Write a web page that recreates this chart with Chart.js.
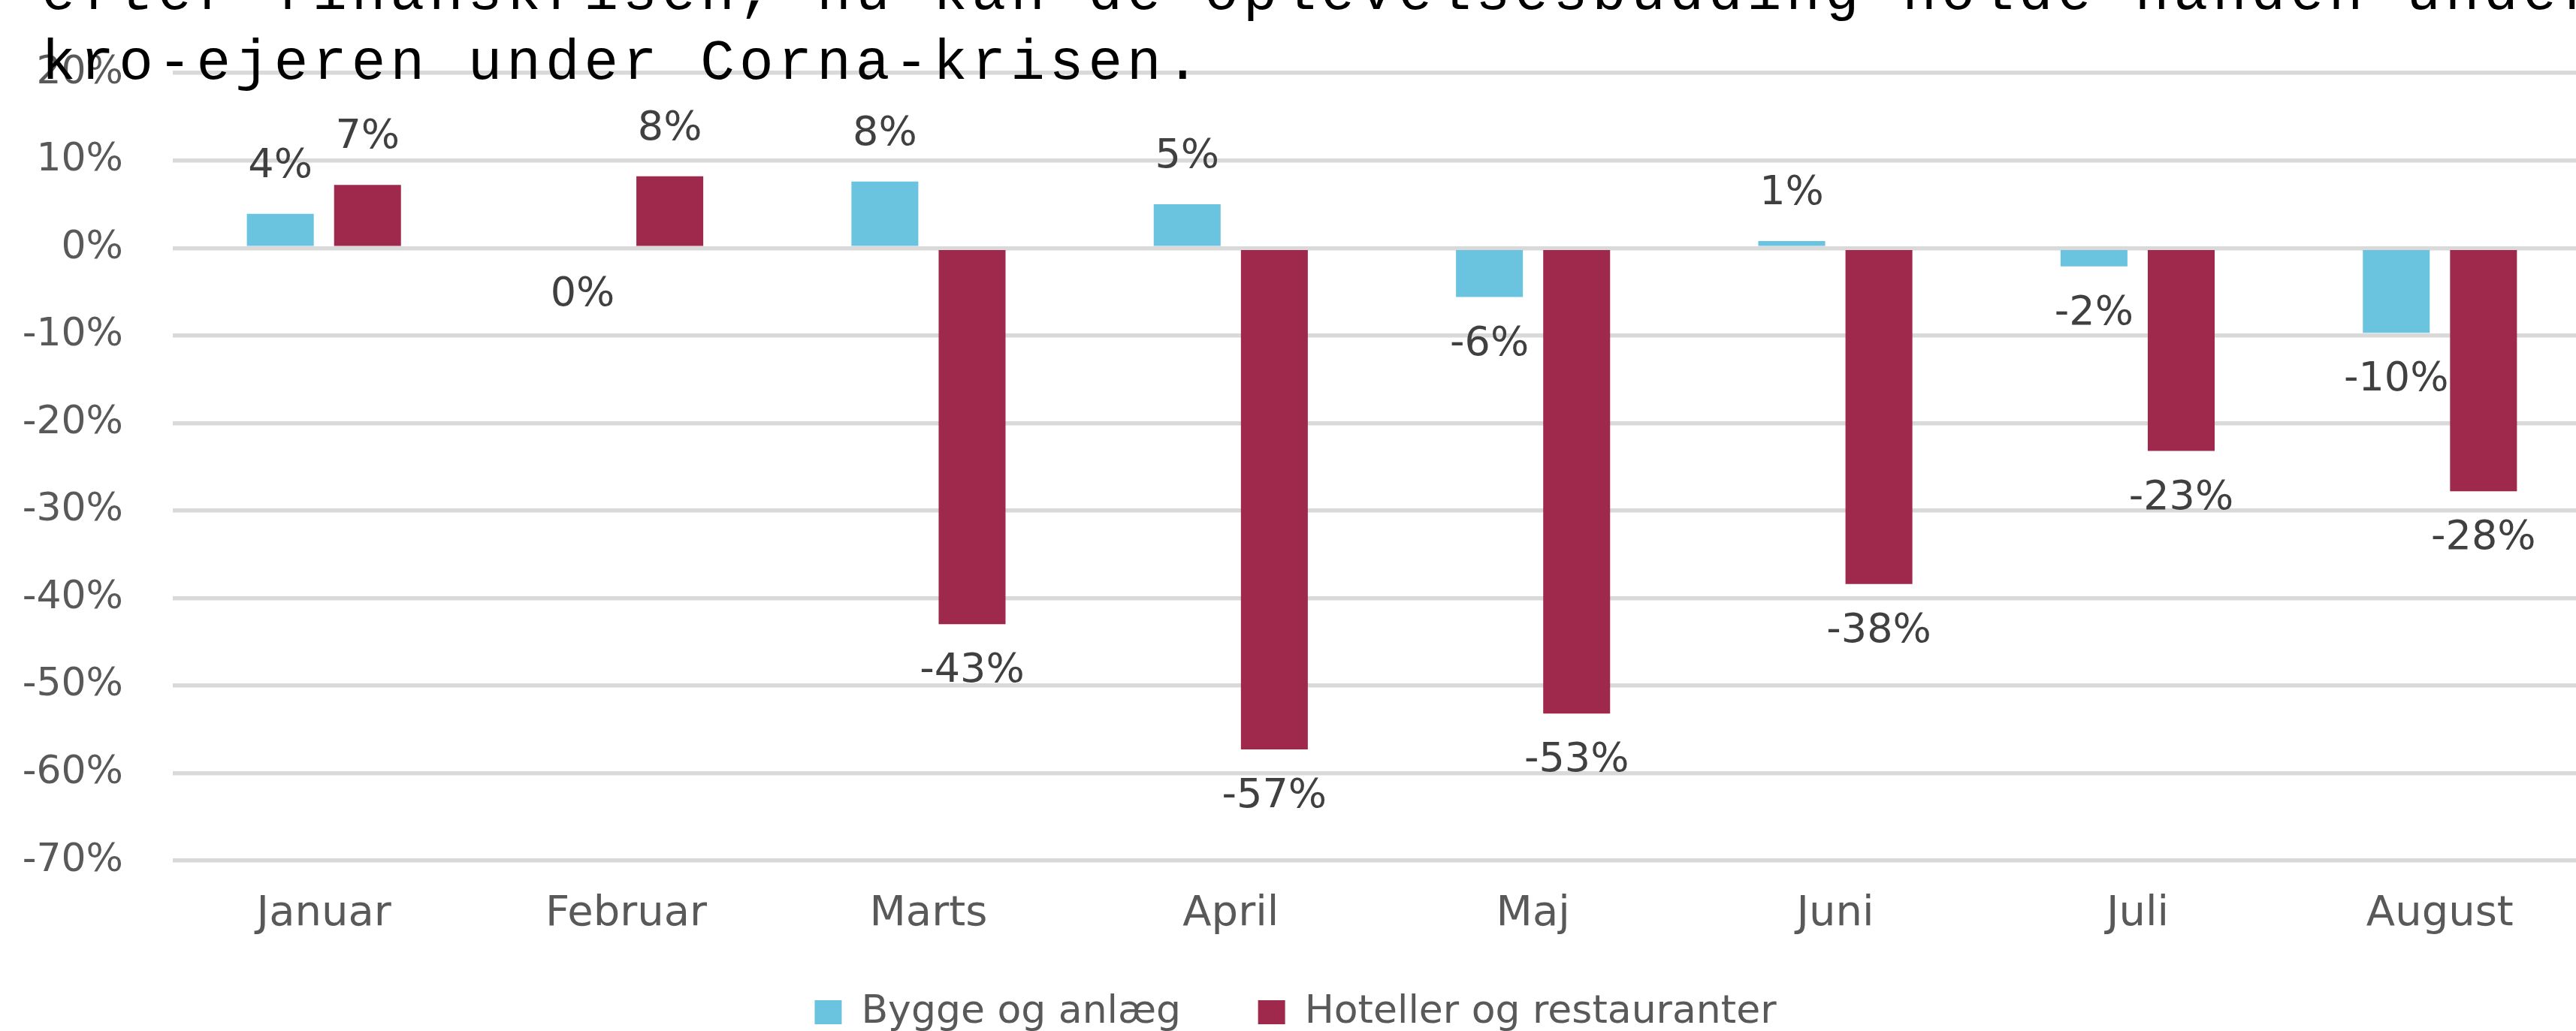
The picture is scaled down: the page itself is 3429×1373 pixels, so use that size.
<!DOCTYPE html>
<html>
<head>
<meta charset="utf-8">
<script src="https://cdn.jsdelivr.net/npm/chart.js@4.4.1/dist/chart.umd.min.js"></script>
<style>
  html, body { margin: 0; padding: 0; background: #fff; overflow: hidden; }
  #wrap { position: absolute; left: 0; top: 0; width: 3470px; height: 1384px; }
  #note {
    position: absolute; left: 55px; top: -54px;
    font-family: "Liberation Mono", "DejaVu Sans Mono", monospace;
    font-size: 76px; letter-spacing: 6px; line-height: 93px; color: #000;
    white-space: pre; pointer-events: none;
  }
</style>
</head>
<body>
<div id="wrap"><canvas id="chart"></canvas></div>
<div id="note">efter finanskrisen, nu kan de oplevelsesbudding holde hånden under
kro-ejeren under Corna-krisen.</div>
<script>
const months = ["Januar", "Februar", "Marts", "April", "Maj", "Juni", "Juli", "August"];
const byggeValues = [3.9, 0, 7.6, 5.0, -5.6, 0.8, -2.1, -9.7];
const hotelValues = [7.2, 8.2, -43.0, -57.3, -53.2, -38.4, -23.2, -27.8];
const seriesNames = ["Bygge og anlæg", "Hoteller og restauranter"];
const yTicks = [20, 10, 0, -10, -20, -30, -40, -50, -60, -70];

const FONT = "'DejaVu Sans', Verdana, sans-serif";

// value labels outside the bar end, like the Excel original
const barLabels = {
  id: "barLabels",
  afterDatasetsDraw(chart) {
    const ctx = chart.ctx;
    ctx.save();
    ctx.font = "54px " + FONT;
    ctx.fillStyle = "#404040";
    ctx.textAlign = "center";
    ctx.textBaseline = "middle";
    chart.data.datasets.forEach((ds, i) => {
      chart.getDatasetMeta(i).data.forEach((bar, j) => {
        const v = ds.data[j];
        const y = v > 0 ? bar.y - 63 : bar.y + 63;
        ctx.fillText(Math.round(v) + "%", bar.x, y);
      });
    });
    ctx.restore();
  },
};

new Chart(document.getElementById("chart"), {
  type: "bar",
  data: {
    labels: months,
    datasets: [
      { label: seriesNames[0], data: byggeValues, backgroundColor: "#6BC4DF" },
      { label: seriesNames[1], data: hotelValues, backgroundColor: "#9F294C" },
    ],
  },
  options: {
    responsive: true,
    maintainAspectRatio: false,
    animation: false,
    categoryPercentage: 0.577,
    barPercentage: 0.767,
    layout: { padding: { top: 34, right: 21, bottom: 0, left: 0 } },
    scales: {
      x: {
        grid: { display: false, drawTicks: false },
        border: { display: false },
        ticks: { padding: 38, color: "#595959", font: { family: FONT, size: 56 } },
        afterFit(scale) { scale.height = 116; },
      },
      y: {
        min: -70,
        max: 20,
        afterBuildTicks(scale) {
          scale.ticks = yTicks.map((v) => ({ value: v }));
        },
        grid: { color: "#D9D9D9", lineWidth: 5.5, drawTicks: false },
        border: { display: false },
        ticks: {
          padding: 66,
          color: "#595959",
          font: { family: FONT, size: 52 },
          callback: (v) => v + "%",
        },
        afterFit(scale) { scale.width = 230; },
      },
    },
    plugins: {
      legend: {
        position: "bottom",
        labels: {
          boxWidth: 36,
          boxHeight: 32,
          padding: 60,
          color: "#595959",
          font: { family: FONT, size: 52 },
          // a little extra room after the first entry, as in the original
          generateLabels(chart) {
            const items = Chart.defaults.plugins.legend.labels.generateLabels(chart);
            items[0].text = items[0].text + " \u2002";
            return items;
          },
        },
      },
      tooltip: { enabled: false },
    },
  },
  plugins: [barLabels],
});
</script>
</body>
</html>
